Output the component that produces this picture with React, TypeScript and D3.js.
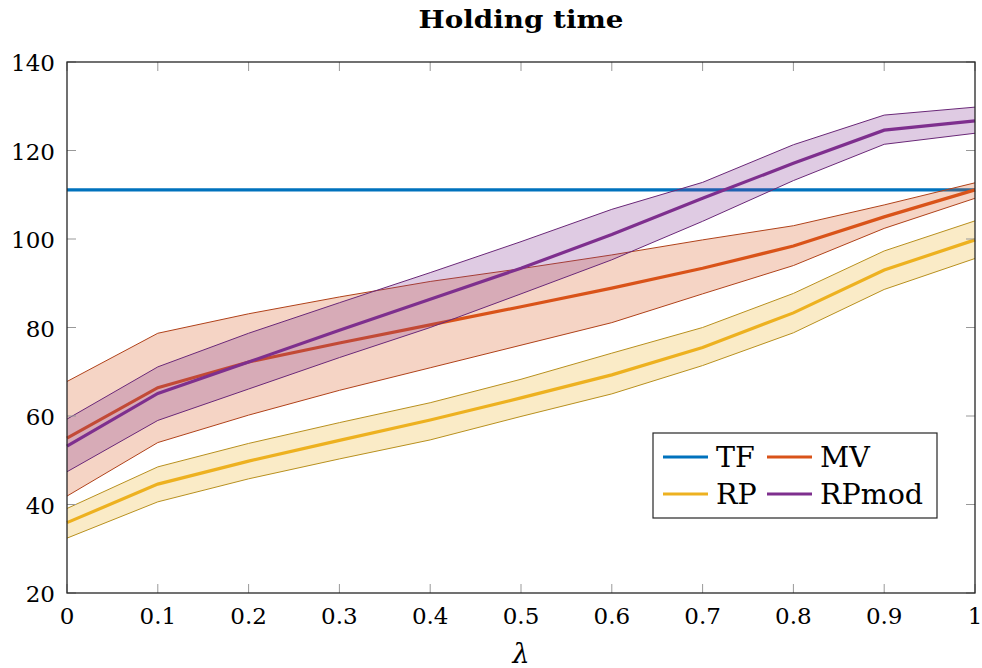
import React from 'react';
import * as d3 from 'd3';

const lambdas = [0, 0.1, 0.2, 0.3, 0.4, 0.5, 0.6, 0.7, 0.8, 0.9, 1];
const xTicks = [0, 0.1, 0.2, 0.3, 0.4, 0.5, 0.6, 0.7, 0.8, 0.9, 1];
const yTicks = [20, 40, 60, 80, 100, 120, 140];

const tfMean = [111.1, 111.1, 111.1, 111.1, 111.1, 111.1, 111.1, 111.1, 111.1, 111.1, 111.1];

const mvMean = [55, 66.4, 72.2, 76.5, 80.6, 84.7, 88.9, 93.4, 98.4, 105, 111.1];
const mvUpper = [67.8, 78.7, 83.1, 86.9, 90.4, 93.3, 96.4, 99.8, 103, 107.7, 112.7];
const mvLower = [41.9, 54, 60.2, 65.8, 70.9, 76, 81.1, 87.6, 94, 102.4, 109.2];

const rpMean = [35.9, 44.6, 49.8, 54.5, 59.1, 64.1, 69.3, 75.5, 83.3, 93, 99.8];
const rpUpper = [39.1, 48.5, 53.8, 58.5, 63, 68.3, 74.2, 80, 87.7, 97.3, 104.1];
const rpLower = [32.4, 40.6, 45.8, 50.3, 54.6, 59.9, 65, 71.4, 78.8, 88.6, 95.6];

const rpmodMean = [53.2, 65.1, 72.2, 79.4, 86.4, 93.4, 101, 109.2, 117.1, 124.6, 126.7];
const rpmodUpper = [59.3, 71.1, 78.7, 85.6, 92.4, 99.4, 106.7, 112.8, 121.3, 128, 129.8];
const rpmodLower = [47.4, 59, 66.1, 73.2, 80, 87.6, 95.3, 104, 113.2, 121.4, 123.9];

const series = [
  { name: 'MV', color: '#D95319', edge: '#B0421A', mean: mvMean, upper: mvUpper, lower: mvLower },
  { name: 'RP', color: '#EDB120', edge: '#B8901E', mean: rpMean, upper: rpUpper, lower: rpLower },
  { name: 'RPmod', color: '#7E2F8E', edge: '#6A2878', mean: rpmodMean, upper: rpmodUpper, lower: rpmodLower },
];

const serifFont = 'DejaVu Serif';

export default function App() {
  const width = 982;
  const height = 668;
  const margin = { top: 62, right: 7, bottom: 75, left: 67 };

  const x = d3.scaleLinear().domain([0, 1]).range([margin.left, width - margin.right]);
  const y = d3.scaleLinear().domain([20, 140]).range([height - margin.bottom, margin.top]);

  const line = (vals: number[]) =>
    d3.line<number>().x((_, i) => x(lambdas[i])).y(d => y(d))(vals) || '';
  const area = (lo: number[], hi: number[]) =>
    d3.area<number>()
      .x((_, i) => x(lambdas[i]))
      .y0((_, i) => y(lo[i]))
      .y1(d => y(d))(hi) || '';

  const x0 = margin.left;
  const x1 = width - margin.right;
  const y0 = height - margin.bottom;
  const y1 = margin.top;

  // legend layout
  const lg = { x: 653, y: 433, w: 284, h: 85 };
  const legendItems = [
    { name: 'TF', color: '#0072BD', col: 0, row: 0 },
    { name: 'MV', color: '#D95319', col: 1, row: 0 },
    { name: 'RP', color: '#EDB120', col: 0, row: 1 },
    { name: 'RPmod', color: '#7E2F8E', col: 1, row: 1 },
  ];

  return (
    <svg width={width} height={height} fontFamily={serifFont}
      style={{ position: 'absolute', left: 0, top: 0, background: '#fff' }}>
      <rect x={0} y={0} width={width} height={height} fill="#fff" />
      <text x={(x0 + x1) / 2} y={28} textAnchor="middle" fontSize={25} fontWeight="bold"
        textLength={205} lengthAdjust="spacingAndGlyphs">Holding time</text>

      <path d={line(tfMean)} fill="none" stroke="#0072BD" strokeWidth={3.2} />

      {series.map(s => (
        <g key={s.name}>
          <path d={area(s.lower, s.upper)} fill={s.color} fillOpacity={0.25} stroke="none" />
          <path d={line(s.upper)} fill="none" stroke={s.edge} strokeWidth={1} />
          <path d={line(s.lower)} fill="none" stroke={s.edge} strokeWidth={1} />
          <path d={line(s.mean)} fill="none" stroke={s.color} strokeWidth={3.2} />
        </g>
      ))}

      {/* ticks */}
      {xTicks.map(t => (
        <g key={'x' + t}>
          <line x1={x(t)} x2={x(t)} y1={y0} y2={y0 - 9} stroke="#999" strokeWidth={1} />
          <line x1={x(t)} x2={x(t)} y1={y1} y2={y1 + 9} stroke="#999" strokeWidth={1} />
          <text x={x(t)} y={y0 + 31} textAnchor="middle" fontSize={23}>{t}</text>
        </g>
      ))}
      {yTicks.map(t => (
        <g key={'y' + t}>
          <line x1={x0} x2={x0 + 9} y1={y(t)} y2={y(t)} stroke="#999" strokeWidth={1} />
          <line x1={x1} x2={x1 - 9} y1={y(t)} y2={y(t)} stroke="#999" strokeWidth={1} />
          <text x={x0 - 12} y={y(t) + 9} textAnchor="end" fontSize={23}>{t}</text>
        </g>
      ))}
      <rect x={x0} y={y1} width={x1 - x0} height={y0 - y1} fill="none" stroke="#262626" strokeWidth={1.3} />

      <text x={(x0 + x1) / 2} y={663} textAnchor="middle" fontSize={27} fontStyle="italic">λ</text>

      <g>
        <rect x={lg.x} y={lg.y} width={lg.w} height={lg.h} fill="#fff" stroke="#262626" strokeWidth={1.2} />
        {legendItems.map(it => {
          const bx = lg.x + 10 + it.col * 104;
          const by = lg.y + 24 + it.row * 37;
          return (
            <g key={it.name}>
              <line x1={bx} x2={bx + 45} y1={by} y2={by} stroke={it.color} strokeWidth={3.2} />
              <text x={bx + 53} y={by + 10} fontSize={28.5}>{it.name}</text>
            </g>
          );
        })}
      </g>
    </svg>
  );
}
